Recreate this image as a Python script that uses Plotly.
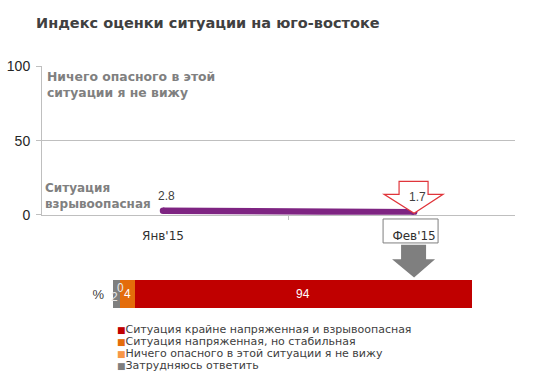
import plotly.graph_objects as go

# ---- data ----
months = ["Янв'15", "Фев'15"]
index_values = [2.8, 1.7]

bar_row = ["%"]
bar_names = [
    "Затрудняюсь ответить",
    "Ничего опасного в этой ситуации я не вижу",
    "Ситуация напряженная, но стабильная",
    "Ситуация крайне напряженная и взрывоопасная",
]
bar_values = [2, 0, 4, 94]
bar_colors = ["#7F7F7F", "#F79646", "#E46C0A", "#C00000"]

y_ticks = [0, 50, 100]

title_text = "Индекс оценки ситуации на юго-востоке"
top_note = "Ничего опасного в этой<br>ситуации я не вижу"
bottom_note = "Ситуация<br>взрывоопасная"

W, H = 545, 390
VERD = "DejaVu Sans"
ARIAL = "Liberation Sans"
DARK = "#404040"
GRID = "#BFBFBF"
LINE_COLOR = "#7E2482"

xs = list(range(len(months)))

fig = go.Figure()

# line
fig.add_trace(go.Scatter(
    x=xs, y=index_values, mode="lines+markers",
    line=dict(color=LINE_COLOR, width=6.5),
    marker=dict(color=LINE_COLOR, size=6.5),
    xaxis="x", yaxis="y", showlegend=False, hoverinfo="skip",
))

# stacked bar
for name, val, col in zip(bar_names, bar_values, bar_colors):
    fig.add_trace(go.Bar(
        x=[val], y=bar_row, orientation="h", name=name,
        marker=dict(color=col, line=dict(width=0)),
        xaxis="x2", yaxis="y2", showlegend=False, hoverinfo="skip",
    ))

annotations = []
# value labels on line
for x, v in zip(xs, index_values):
    annotations.append(dict(
        x=x, y=v, xref="x", yref="y", text=f"{v:.1f}", showarrow=False,
        yshift=15, xshift=3, font=dict(family=ARIAL, size=12, color=DARK),
    ))

# bar labels
cum = 0
label_shifts = {0: (-2, -3), 1: (0, 6)}
for i, (val, col) in enumerate(zip(bar_values, bar_colors)):
    mid = cum + val / 2
    cum += val
    xs_, ys_ = label_shifts.get(i, (0, 0))
    annotations.append(dict(
        x=mid if val > 0 else cum, y=bar_row[0], xref="x2", yref="y2",
        text=str(val), showarrow=False, xshift=xs_, yshift=ys_,
        font=dict(family=ARIAL, size=12,
                  color="#E8E8E8" if i < 2 else "white"),
    ))

# title
annotations.append(dict(
    x=34 / W, y=1 - 16 / H, xref="paper", yref="paper", xanchor="left",
    yanchor="middle", text=f"<b>{title_text}</b>", showarrow=False,
    font=dict(family=VERD, size=14.5, color=DARK),
))
# scale notes
annotations.append(dict(
    x=45 / W, y=1 - 62 / H, xref="paper", yref="paper", xanchor="left",
    yanchor="top", align="left", text=f"<b>{top_note}</b>", showarrow=False,
    font=dict(family=VERD, size=12.4, color="#808080"),
))
annotations.append(dict(
    x=43 / W, y=1 - 178 / H, xref="paper", yref="paper", xanchor="left",
    yanchor="top", align="left", text=f"<b>{bottom_note}</b>", showarrow=False,
    font=dict(family=VERD, size=12, color="#808080"),
))

# manual legend (top to bottom: reversed order)
leg_y0 = 335
for k, (name, col) in enumerate(zip(bar_names[::-1], bar_colors[::-1])):
    annotations.append(dict(
        x=115 / W, y=1 - (leg_y0 + 12.5 * k) / H, xref="paper", yref="paper",
        xanchor="left", yanchor="middle", showarrow=False,
        text=f"<span style='color:{col};font-size:9px'>■</span>{name}",
        font=dict(family=VERD, size=11, color=DARK),
    ))

shapes = [
    # red outlined down-arrow pointing at the February point
    dict(type="path", xref="x", yref="y", xsizemode="pixel", ysizemode="pixel",
         xanchor=xs[1], yanchor=index_values[1],
         path="M-15,31 L14,31 L14,18 L29,18 L0,-1 L-30,18 L-15,18 Z",
         line=dict(color="#E0353B", width=1.2), fillcolor="white", layer="above"),
    # box around February label
    dict(type="rect", xref="x", yref="paper", xsizemode="pixel",
         xanchor=xs[1], x0=-31, x1=24, y0=1 - 245 / H, y1=1 - 220 / H,
         line=dict(color="#7F7F7F", width=1), fillcolor="rgba(0,0,0,0)",
         layer="above"),
    # gray arrow to the bar
    dict(type="path", xref="x", yref="paper", xsizemode="pixel",
         xanchor=xs[1],
         path=(f"M-13,{1-247/H} L12,{1-247/H} L12,{1-262/H} L21,{1-262/H} "
               f"L0,{1-281/H} L-22,{1-262/H} L-13,{1-262/H} Z"),
         line=dict(width=0), fillcolor="#7F7F7F", layer="above"),
]

fig.update_layout(
    width=W, height=H, margin=dict(l=0, r=0, t=0, b=0),
    paper_bgcolor="white", plot_bgcolor="rgba(0,0,0,0)",
    barmode="stack", bargap=0, showlegend=False,
    xaxis=dict(
        domain=[42 / W, 515 / W], range=[-0.482, 1.402],
        tickvals=xs, ticktext=months, ticks="", showgrid=False,
        zeroline=False, showline=True, linecolor=GRID, linewidth=1,
        tickfont=dict(family=VERD, size=12, color="#303030"),
        ticklabelstandoff=10,
        minor=dict(tickvals=[0.5], ticks="outside", ticklen=4,
                   tickcolor=GRID, showgrid=False),
    ),
    yaxis=dict(
        domain=[1 - 215.7 / H, 1 - 61 / H], range=[0, 100],
        tickvals=y_ticks, ticks="outside", ticklen=5, tickcolor=GRID,
        showgrid=True, gridcolor=GRID, gridwidth=1, zeroline=False,
        showline=True, linecolor=GRID, linewidth=1,
        tickfont=dict(family=ARIAL, size=14, color="#262626"),
        ticklabelstandoff=3,
    ),
    xaxis2=dict(
        domain=[113 / W, 472 / W], range=[0, 100], anchor="y2",
        visible=False, fixedrange=True,
    ),
    yaxis2=dict(
        domain=[1 - 313 / H, 1 - 283 / H], anchor="x2",
        showgrid=False, zeroline=False, showline=False, ticks="",
        tickfont=dict(family=ARIAL, size=13, color=DARK),
        ticklabelstandoff=8,
    ),
    annotations=annotations,
    shapes=shapes,
)

fig.write_html("out.html", config={"displayModeBar": False},
               post_script="document.body.style.margin='0';")
